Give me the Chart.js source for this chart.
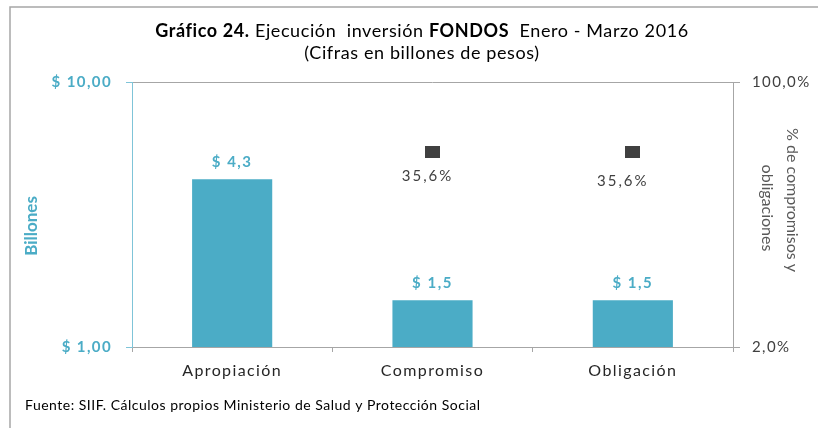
<!DOCTYPE html>
<html>
<head>
<meta charset="utf-8">
<script src="https://cdn.jsdelivr.net/npm/chart.js@4.4.1/dist/chart.umd.min.js"></script>
<style>
  body { margin: 0; background: #fff; }
  canvas { display: block; }
</style>
</head>
<body>
<canvas id="chart" width="821" height="428"></canvas>
<script>
// data
const categories = ['Apropiación', 'Compromiso', 'Obligación']
const billones = [4.3, 1.5, 1.5]            // bars, left log axis
const porcentaje = [null, 35.6, 35.6]       // markers, right log axis
const leftTicks = [1, 10]
const rightTicks = [2, 100]

const teal = '#4bacc6'
const gray = '#a6a6a6'
const FONT = 'Lato'

// the dark square marker is a little wider than tall
const marker = document.createElement('canvas')
marker.width = 15
marker.height = 12
const mctx = marker.getContext('2d')
mctx.fillStyle = '#404040'
mctx.fillRect(0, 0, 15, 12)

const comma = (v, d) => v.toFixed(d).replace('.', ',')

function text(ctx, str, x, y, opts) {
  ctx.save()
  ctx.font = opts.font
  ctx.fillStyle = opts.color
  ctx.textAlign = opts.align || 'center'
  ctx.textBaseline = 'middle'
  ctx.letterSpacing = opts.spacing || '0px'
  if (opts.rotate) {
    ctx.translate(x, y)
    ctx.rotate(opts.rotate)
    ctx.fillText(str, 0, 0)
  } else {
    ctx.fillText(str, x, y, opts.maxWidth)
  }
  ctx.restore()
}

// Excel spreads the letters a bit, tick labels too
const spacing = {
  id: 'spacing',
  beforeLayout(chart) { chart.ctx.letterSpacing = '1.4px' },
  beforeDraw(chart) { chart.ctx.letterSpacing = '1.4px' }
}

const decor = {
  id: 'decor',
  beforeDraw(chart) {
    const ctx = chart.ctx
    const a = chart.chartArea
    ctx.save()
    ctx.fillStyle = '#fff'
    ctx.fillRect(0, 0, chart.width, chart.height)
    // outer frame
    ctx.strokeStyle = gray
    ctx.lineWidth = 1.5
    ctx.beginPath()
    ctx.moveTo(10, 430)
    ctx.lineTo(10, 7)
    ctx.lineTo(818, 7)
    ctx.stroke()
    // top edge of plot
    ctx.lineWidth = 1
    ctx.beginPath()
    ctx.moveTo(a.left, a.top + 0.5)
    ctx.lineTo(a.right, a.top + 0.5)
    ctx.stroke()
    ctx.restore()

    // title, mixed bold / normal
    const parts = [
      ['Gráfico 24.', 'bold'],
      [' Ejecución  inversión ', 'normal'],
      ['FONDOS', 'bold'],
      ['  Enero - Marzo 2016', 'normal']
    ]
    const tSpace = '0.6px'
    ctx.save()
    ctx.letterSpacing = tSpace
    let total = 0
    const widths = parts.map(p => {
      ctx.font = p[1] + ' 18px ' + FONT
      const w = ctx.measureText(p[0]).width
      total += w
      return w
    })
    ctx.restore()
    let x = 422 - total / 2
    parts.forEach((p, i) => {
      text(ctx, p[0], x, 31, { font: p[1] + ' 18px ' + FONT, color: '#000', align: 'left', spacing: tSpace })
      x += widths[i]
    })
    text(ctx, '(Cifras en billones de pesos)', 422, 53, { font: '18px ' + FONT, color: '#000', spacing: tSpace })

    // axis titles
    text(ctx, 'Billones', 32, 226, { font: 'bold 17px ' + FONT, color: teal, rotate: -Math.PI / 2, spacing: '0px' })
    text(ctx, '% de compromisos y', 792, 200, { font: '16px ' + FONT, color: '#595959', rotate: Math.PI / 2, spacing: '0px' })
    text(ctx, 'obligaciones', 767, 208, { font: '16px ' + FONT, color: '#595959', rotate: Math.PI / 2, spacing: '0px' })

    // source
    text(ctx, 'Fuente: SIIF. Cálculos propios Ministerio de Salud y Protección Social', 25, 405,
      { font: '14px ' + FONT, color: '#000', align: 'left', spacing: '0.5px', maxWidth: 465 })
  },
  afterDatasetsDraw(chart) {
    const ctx = chart.ctx
    chart.getDatasetMeta(0).data.forEach((bar, i) => {
      text(ctx, '$ ' + comma(billones[i], 1), bar.x, bar.y - 17,
        { font: 'bold 15px ' + FONT, color: teal, spacing: '1.5px' })
    })
    const dx = [0, -5, -10]
    const dy = [0, 24, 29]
    chart.getDatasetMeta(1).data.forEach((pt, i) => {
      if (porcentaje[i] == null) return
      text(ctx, comma(porcentaje[i], 1) + '%', pt.x + dx[i], pt.y + dy[i],
        { font: '15px ' + FONT, color: '#404040', spacing: '2px' })
    })
  }
}

new Chart(document.getElementById('chart'), {
  data: {
    labels: categories,
    datasets: [
      {
        type: 'bar',
        data: billones,
        yAxisID: 'y',
        backgroundColor: teal,
        barPercentage: 0.4,
        categoryPercentage: 1,
        order: 2
      },
      {
        type: 'line',
        data: porcentaje,
        yAxisID: 'y1',
        showLine: false,
        pointStyle: marker,
        pointRadius: 7,
        order: 1
      }
    ]
  },
  options: {
    responsive: false,
    animation: false,
    layout: { padding: { top: 82, left: 0, right: 0, bottom: 0 } },
    plugins: {
      legend: { display: false },
      tooltip: { enabled: false }
    },
    scales: {
      x: {
        offset: true,
        grid: { offset: true, drawOnChartArea: false, tickLength: 5, color: gray },
        border: { color: gray },
        ticks: { font: { family: FONT, size: 16 }, color: '#262626', padding: 9 },
        afterFit(scale) { scale.height = 81 }
      },
      y: {
        type: 'logarithmic',
        position: 'left',
        min: 1,
        max: 10,
        afterBuildTicks(scale) { scale.ticks = leftTicks.map(v => ({ value: v })) },
        grid: { drawOnChartArea: false, tickLength: 6, color: '#7fc4d8' },
        border: { color: '#7fc4d8' },
        ticks: {
          font: { family: FONT, size: 15, weight: 'bold' },
          color: teal,
          padding: 14,
          callback: v => '$ ' + comma(v, 2)
        },
        afterFit(scale) { scale.width = 132 }
      },
      y1: {
        type: 'logarithmic',
        position: 'right',
        min: 2,
        max: 100,
        afterBuildTicks(scale) { scale.ticks = rightTicks.map(v => ({ value: v })) },
        grid: { drawOnChartArea: false, tickLength: 7, color: gray },
        border: { color: gray },
        ticks: {
          font: { family: FONT, size: 15 },
          color: '#404040',
          padding: 12,
          callback: v => comma(v, 1) + '%'
        },
        afterFit(scale) { scale.width = 88 }
      }
    }
  },
  plugins: [spacing, decor]
})
</script>
</body>
</html>
